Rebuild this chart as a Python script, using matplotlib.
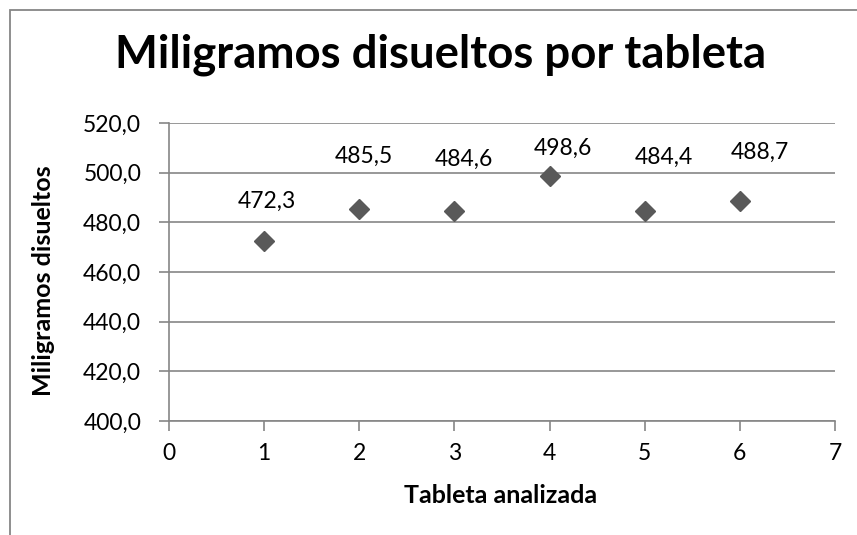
import matplotlib
matplotlib.use("Agg")
import matplotlib.pyplot as plt
from matplotlib.patches import Rectangle
from matplotlib.ticker import FuncFormatter, MultipleLocator

tabletas = [1, 2, 3, 4, 5, 6]
miligramos = [472.3, 485.5, 484.6, 498.6, 484.4, 488.7]
titulo = "Miligramos disueltos por tableta"
xlabel = "Tableta analizada"
ylabel = "Miligramos disueltos"

# data-label offsets (points) as placed in the original chart
label_dx = [2.2, 3.6, 6.5, 9.4, 13.7, 14.4]
label_dy = [24.5, 33.1, 32.4, 15.1, 34.6, 30.2]

plt.rcParams['font.family'] = ['Lato', 'DejaVu Sans']
W, H = 857, 535
fig = plt.figure(figsize=(W / 100, H / 100), dpi=100)
fig.patch.set_facecolor('white')

# outer chart frame
fig.patches.append(Rectangle((10 / W, -0.05), 1.2, 1 - 10 / H + 0.05, transform=fig.transFigure,
                             fill=False, edgecolor='#868686', linewidth=1.3))

x0, x1, ytop, ybot = 169, 835, 123, 421
ax = fig.add_axes([x0 / W, 1 - ybot / H, (x1 - x0) / W, (ybot - ytop) / H])
grey = '#868686'
ax.set_xlim(0, 7)
ax.set_ylim(400, 520)
ax.xaxis.set_major_locator(MultipleLocator(1))
ax.yaxis.set_major_locator(MultipleLocator(20))
ax.yaxis.set_major_formatter(FuncFormatter(lambda v, p: f"{v:.1f}".replace('.', ',')))
ax.grid(axis='y', color=grey, linewidth=1.2)
ax.set_axisbelow(True)
for s in ['top', 'right']:
    ax.spines[s].set_visible(False)
for s in ['left', 'bottom']:
    ax.spines[s].set_color(grey)
    ax.spines[s].set_linewidth(1.2)
ax.tick_params(axis='both', colors=grey, length=7, width=1.2, labelsize=16.5, labelcolor='black')
ax.tick_params(axis='x', pad=9)
ax.tick_params(axis='y', pad=13)

ax.plot(tabletas, miligramos, linestyle='none', marker='D', markersize=10.5,
        color='#595959', zorder=3)
for x, y, dx, dy in zip(tabletas, miligramos, label_dx, label_dy):
    ax.annotate(f"{y:.1f}".replace('.', ','), (x, y), xytext=(dx, dy), textcoords='offset points',
                ha='center', va='baseline', fontsize=16.5)

fig.text(441 / W, 1 - 67 / H, titulo, ha='center', va='baseline', fontsize=32.8, fontweight='bold')
fig.text(501 / W, 1 - 503 / H, xlabel, ha='center', va='baseline', fontsize=18, fontweight='bold')
fig.text(44 / W, 1 - 281 / H, ylabel, ha='center', va='center', rotation=90, fontsize=18, fontweight='bold')

fig.savefig('out.png', dpi=100)
